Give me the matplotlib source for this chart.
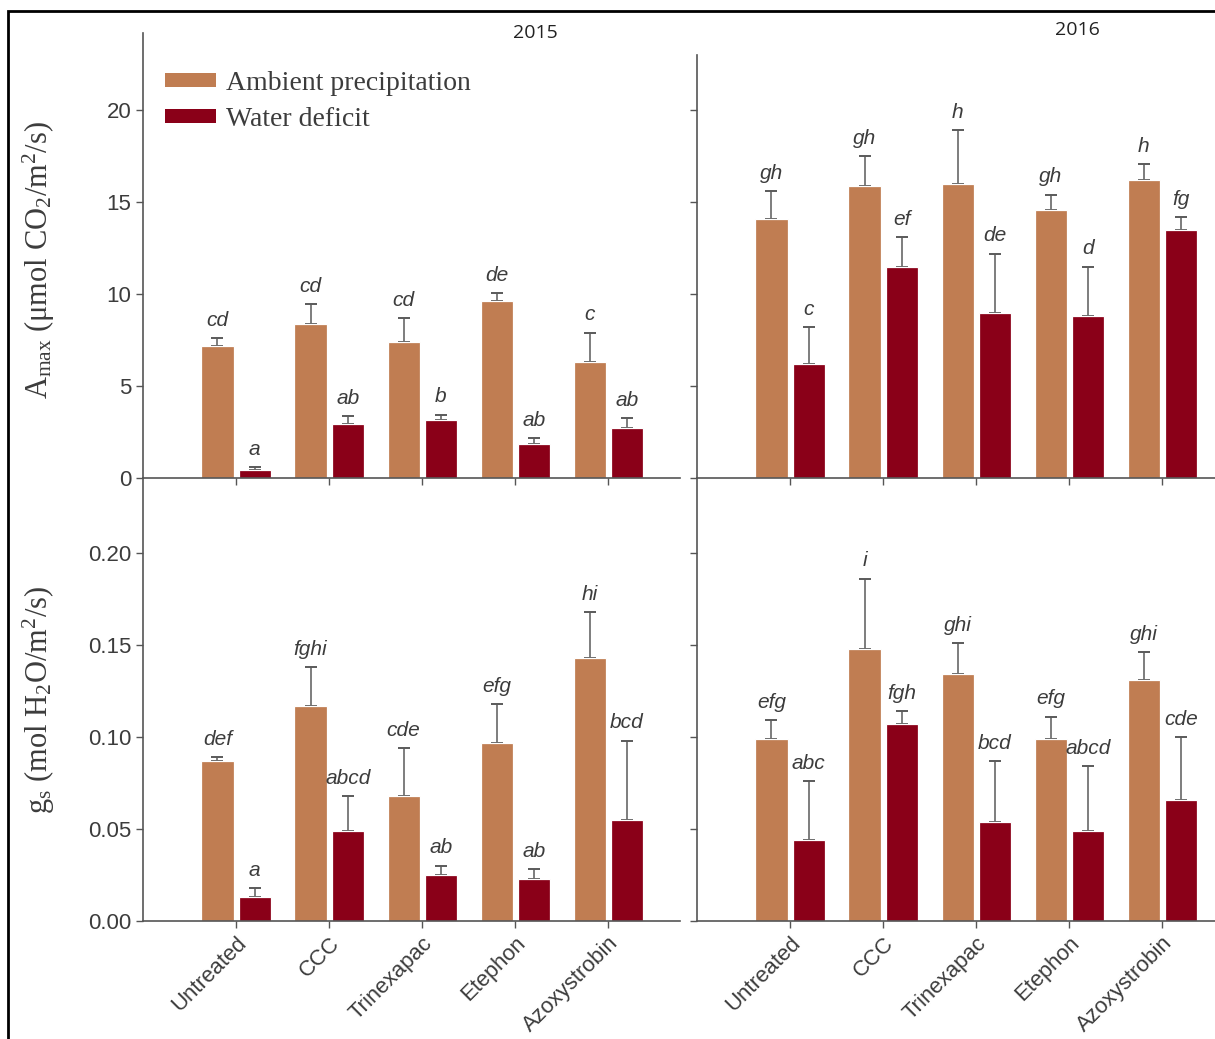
import matplotlib.pyplot as plt
import numpy as np
from matplotlib.patches import Patch, Rectangle

treatments = ["Untreated", "CCC", "Trinexapac", "Etephon", "Azoxystrobin"]
years = ["2015", "2016"]

# A_max (umol CO2/m2/s): means and upper error bar lengths
amax_ambient_2015 = [7.2, 8.4, 7.4, 9.6, 6.3]
amax_ambient_2015_err = [0.4, 1.05, 1.3, 0.45, 1.6]
amax_deficit_2015 = [0.45, 2.95, 3.15, 1.85, 2.7]
amax_deficit_2015_err = [0.15, 0.4, 0.3, 0.3, 0.55]
amax_ambient_2016 = [14.1, 15.9, 16.0, 14.6, 16.2]
amax_ambient_2016_err = [1.5, 1.6, 2.9, 0.8, 0.85]
amax_deficit_2016 = [6.2, 11.5, 9.0, 8.8, 13.5]
amax_deficit_2016_err = [2.0, 1.6, 3.2, 2.7, 0.7]

# g_s (mol H2O/m2/s)
gs_ambient_2015 = [0.087, 0.117, 0.068, 0.097, 0.143]
gs_ambient_2015_err = [0.002, 0.021, 0.026, 0.021, 0.025]
gs_deficit_2015 = [0.013, 0.049, 0.025, 0.023, 0.055]
gs_deficit_2015_err = [0.005, 0.019, 0.005, 0.005, 0.043]
gs_ambient_2016 = [0.099, 0.148, 0.134, 0.099, 0.131]
gs_ambient_2016_err = [0.010, 0.038, 0.017, 0.012, 0.015]
gs_deficit_2016 = [0.044, 0.107, 0.054, 0.049, 0.066]
gs_deficit_2016_err = [0.032, 0.007, 0.033, 0.035, 0.034]

# significance letters
amax_letters_ambient_2015 = ["cd", "cd", "cd", "de", "c"]
amax_letters_deficit_2015 = ["a", "ab", "b", "ab", "ab"]
amax_letters_ambient_2016 = ["gh", "gh", "h", "gh", "h"]
amax_letters_deficit_2016 = ["c", "ef", "de", "d", "fg"]
gs_letters_ambient_2015 = ["def", "fghi", "cde", "efg", "hi"]
gs_letters_deficit_2015 = ["a", "abcd", "ab", "ab", "bcd"]
gs_letters_ambient_2016 = ["efg", "i", "ghi", "efg", "ghi"]
gs_letters_deficit_2016 = ["abc", "fgh", "bcd", "abcd", "cde"]

amax_ticks = [0, 5, 10, 15, 20]
gs_ticks = [0.00, 0.05, 0.10, 0.15, 0.20]

AMBIENT = "#C07D52"
DEFICIT = "#8A0018"
GREY = "#3c3c3c"
SPINE = "#555555"

plt.rcParams["mathtext.fontset"] = "custom"
plt.rcParams["mathtext.rm"] = "Liberation Serif"
plt.rcParams["mathtext.it"] = "Liberation Serif:italic"

W, H = 1215, 1039
fig = plt.figure(figsize=(W / 100, H / 100), dpi=100)


def px_axes(x0, y_top, x1, y_bot):
    return fig.add_axes([x0 / W, 1 - y_bot / H, (x1 - x0) / W, (y_bot - y_top) / H])


def draw_panel(ax, amb, amb_err, dfc, dfc_err, let_amb, let_dfc, ylim, ticks, fmt):
    x = np.arange(len(treatments))
    width = 0.345
    for off, vals, errs, color, letters in [
        (-0.2, amb, amb_err, AMBIENT, let_amb),
        (0.2, dfc, dfc_err, DEFICIT, let_dfc),
    ]:
        vals = np.array(vals)
        errs = np.array(errs)
        ax.bar(x + off, vals, width, color=color, edgecolor="white", linewidth=0.9, zorder=2)
        ax.errorbar(x + off, vals, yerr=[np.zeros_like(errs), errs], fmt="none",
                    ecolor="#5a5a5a", elinewidth=1.1, capsize=4.5, capthick=1.4, zorder=1)
        for xi, top, lab in zip(x + off, vals + errs, letters):
            ax.annotate(lab, (xi, top), xytext=(0, 6), textcoords="offset points",
                        ha="center", va="bottom", fontsize=15, style="italic",
                        family="Liberation Sans", color=GREY)
    ax.set_xlim(-1.0, 4.77)
    ax.set_ylim(*ylim)
    ax.set_yticks(ticks)
    ax.set_yticklabels([fmt.format(t) for t in ticks])
    ax.set_xticks(x)
    for side in ["top", "right"]:
        ax.spines[side].set_visible(False)
    for side in ["left", "bottom"]:
        ax.spines[side].set_color(SPINE)
        ax.spines[side].set_linewidth(1.2)
    ax.tick_params(direction="out", length=5, width=1, color=SPINE,
                   labelsize=16, labelcolor=GREY)
    ax.patch.set_alpha(0)


ax_tl = px_axes(143, 33, 680, 478)
ax_tr = px_axes(697, 33, 1234, 478)
ax_bl = px_axes(143, 478, 680, 921)
ax_br = px_axes(697, 478, 1234, 921)

draw_panel(ax_tl, amax_ambient_2015, amax_ambient_2015_err, amax_deficit_2015,
           amax_deficit_2015_err, amax_letters_ambient_2015, amax_letters_deficit_2015,
           (0, 24.2), amax_ticks, "{:.0f}")
draw_panel(ax_tr, amax_ambient_2016, amax_ambient_2016_err, amax_deficit_2016,
           amax_deficit_2016_err, amax_letters_ambient_2016, amax_letters_deficit_2016,
           (0, 24.2), amax_ticks, "{:.0f}")
draw_panel(ax_bl, gs_ambient_2015, gs_ambient_2015_err, gs_deficit_2015,
           gs_deficit_2015_err, gs_letters_ambient_2015, gs_letters_deficit_2015,
           (0, 0.2408), gs_ticks, "{:.2f}")
draw_panel(ax_br, gs_ambient_2016, gs_ambient_2016_err, gs_deficit_2016,
           gs_deficit_2016_err, gs_letters_ambient_2016, gs_letters_deficit_2016,
           (0, 0.2408), gs_ticks, "{:.2f}")

ax_tr.spines["left"].set_bounds(0, 23.0)
for ax in (ax_tr, ax_br):
    ax.tick_params(labelleft=False)
for ax in (ax_tl, ax_tr):
    ax.tick_params(labelbottom=False)
for ax in (ax_bl, ax_br):
    ax.set_xticklabels(treatments, rotation=45, ha="right", rotation_mode="anchor",
                       family="Liberation Sans", fontsize=15.8, color=GREY)
for ax in fig.axes:
    for lab in ax.get_yticklabels():
        lab.set_family("Liberation Sans")

ax_tl.set_ylabel(r"A$_{\mathrm{max}}$ (μmol CO$_{2}$/m$^{2}$/s)",
                 family="Liberation Serif", fontsize=22, color=GREY)
ax_bl.set_ylabel(r"g$_{\mathrm{s}}$ (mol H$_{2}$O/m$^{2}$/s)",
                 family="Liberation Serif", fontsize=22, color=GREY)
ax_tl.yaxis.set_label_coords(-0.16, 0.49)
ax_bl.yaxis.set_label_coords(-0.16, 0.5)

handles = [Patch(facecolor=AMBIENT, edgecolor="none", label="Ambient precipitation"),
           Patch(facecolor=DEFICIT, edgecolor="none", label="Water deficit")]
leg = ax_tl.legend(handles=handles, loc="upper left", bbox_to_anchor=(0.041, 0.915),
                   frameon=False, prop={"family": "Liberation Serif", "size": 20},
                   handlelength=1.85, handleheight=0.4, handletextpad=0.35,
                   labelspacing=0.4, borderaxespad=0, borderpad=0)
for t in leg.get_texts():
    t.set_color(GREY)

fig.text(535 / W, 1 - 33 / H, years[0], ha="center", va="center",
         family="Open Sans", fontsize=14, color="#222222")
fig.text(1077 / W, 1 - 30 / H, years[1], ha="center", va="center",
         family="Open Sans", fontsize=14, color="#222222")

fig.add_artist(Rectangle((8 / W, -0.1), 1.2, 1.1 - 11 / H, transform=fig.transFigure,
                         fill=False, edgecolor="black", linewidth=2, clip_on=False))

fig.savefig("out.png", dpi=100)
